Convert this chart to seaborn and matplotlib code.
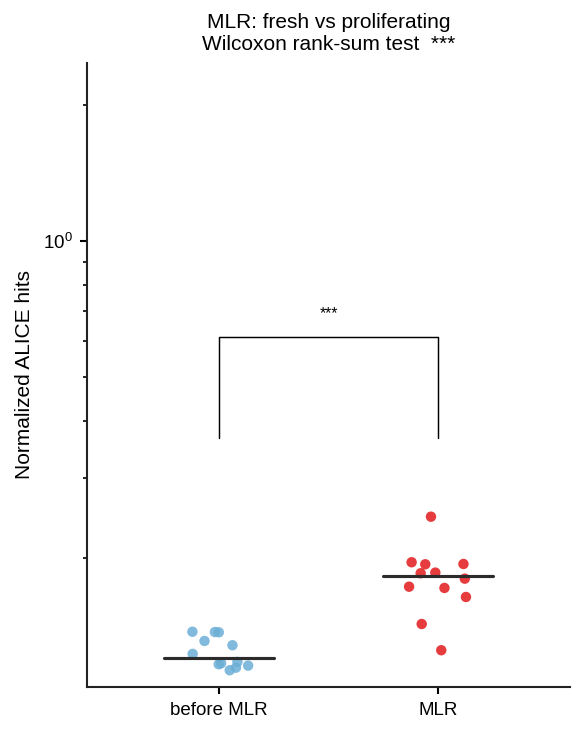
import numpy as np
import pandas as pd
import matplotlib
matplotlib.use("Agg")
import matplotlib.pyplot as plt
import seaborn as sns

# ---- data ----
categories = ["before MLR", "MLR"]
before_vals = [0.1226, 0.1143, 0.1370, 0.1281, 0.1155, 0.1169,
               0.1368, 0.1372, 0.1309, 0.1163, 0.1128, 0.1177]
mlr_vals = [0.2462, 0.1953, 0.1933, 0.1936, 0.1847, 0.1853,
            0.1797, 0.1725, 0.1714, 0.1637, 0.1427, 0.1249]
colors = ["#6baed6", "#e31a1c"]
title_text = "MLR: fresh vs proliferating\nWilcoxon rank-sum test  ***"
ylabel_text = "Normalized ALICE hits"
sig_text = "***"

df = pd.DataFrame({
    "group": [categories[0]] * len(before_vals) + [categories[1]] * len(mlr_vals),
    "value": before_vals + mlr_vals,
})

sns.set_theme(style="ticks")
plt.rcParams["font.family"] = ["Liberation Sans", "DejaVu Sans"]
plt.rcParams["text.color"] = "black"
plt.rcParams["axes.labelcolor"] = "black"
plt.rcParams["xtick.color"] = "black"
plt.rcParams["ytick.color"] = "black"
plt.rcParams["axes.linewidth"] = 1.0
plt.rcParams["axes.edgecolor"] = "#222222"
plt.rcParams["xtick.major.size"] = 3.5
plt.rcParams["ytick.major.size"] = 3.5
plt.rcParams["ytick.minor.size"] = 2.0
plt.rcParams["xtick.major.width"] = 1.0
plt.rcParams["ytick.major.width"] = 1.0
plt.rcParams["ytick.minor.width"] = 0.8

fig = plt.figure(figsize=(3.9, 4.9), dpi=150)
ax = fig.add_axes([0.1487, 0.0653, 0.8257, 0.849])

np.random.seed(7)
sns.stripplot(data=df, x="group", y="value", hue="group", palette=colors,
              order=categories, jitter=0.14, size=5, alpha=0.85,
              linewidth=0, legend=False, ax=ax, zorder=3)

# median lines
for i, vals in enumerate([before_vals, mlr_vals]):
    m = np.median(vals)
    ax.plot([i - 0.25, i + 0.25], [m, m], color="#2b2b2b", lw=1.5, zorder=4)

ax.set_yscale("log")
ax.set_ylim(0.1036, 2.47)
ax.set_xlim(-0.6, 1.6)

# significance bracket
ymax = max(max(before_vals), max(mlr_vals))
y_lo = ymax * 1.49
y_hi = y_lo * 1.674
ax.plot([0, 0, 1, 1], [y_lo, y_hi, y_hi, y_lo], color="black", lw=0.7, zorder=2)
ax.text(0.5, y_hi * 1.125, sig_text, ha="center", va="center", fontsize=7.5)

ax.set_title(title_text, fontsize=10, pad=6)
ax.set_ylabel(ylabel_text, fontsize=10)
ax.set_xlabel("")
ax.tick_params(axis="x", labelsize=9)
ax.tick_params(axis="y", which="both", labelsize=9)
ax.yaxis.set_minor_formatter(matplotlib.ticker.NullFormatter())
sns.despine(ax=ax)

fig.savefig("out.png", dpi=150)
